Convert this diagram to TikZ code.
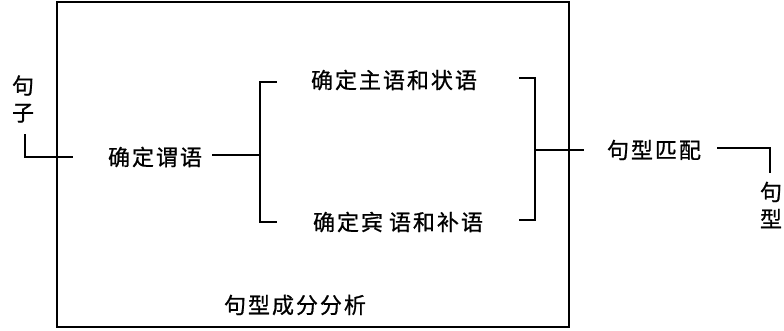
\documentclass[tikz,border=0pt]{standalone}
\usepackage{fontspec}
\newfontfamily\cjk[LetterSpace=9,FakeBold=0.8]{Noto Sans CJK SC}
\begin{document}
\begin{tikzpicture}[x=1pt,y=-1pt,
  conn/.style={line width=1.6pt, line cap=rect},
  frame/.style={line width=2pt},
  lbl/.style={font=\cjk\fontsize{22}{27}\selectfont, inner sep=0pt, align=center}]
\useasboundingbox (0,0) rectangle (784,330);
% outer frame
\draw[frame] (57,2) rectangle (569,327);
% nodes
\node[lbl] (sent) at (23,99) {句\\子};
\node[lbl] (pred) at (155,157) {确定谓语};
\node[lbl] (subj) at (394,80) {确定主语和状语};
\node[lbl] (obj)  at (398,222) {确定宾\hspace{6pt}语和补语};
\node[lbl] (match) at (654,150) {句型匹配};
\node[lbl] (out) at (771,205) {句\\型};
\node[lbl] (title) at (295,305) {句型成分分析};
% coordinates for connectors
\coordinate (s1) at (25,135);
\coordinate (s2) at (72,157);
\coordinate (p1) at (213,155);
\coordinate (lb) at (260,155);
\coordinate (lt1) at (276,82);
\coordinate (lb1) at (276,222);
\coordinate (rt1) at (520,78);
\coordinate (rb1) at (520,220);
\coordinate (rb) at (535,150);
\coordinate (m1) at (583,150);
\coordinate (m2) at (718,148);
\coordinate (o1) at (770,172);
% connectors
\draw[conn] (s1) |- (s2);
\draw[conn] (p1) -- (lb);
\draw[conn] (lt1) -- (lb |- lt1) -- (lb |- lb1) -- (lb1);
\draw[conn] (rt1) -- (rb |- rt1) -- (rb |- rb1) -- (rb1);
\draw[conn] (rb) -- (m1);
\draw[conn] (m2) -| (o1);
\end{tikzpicture}
\end{document}
